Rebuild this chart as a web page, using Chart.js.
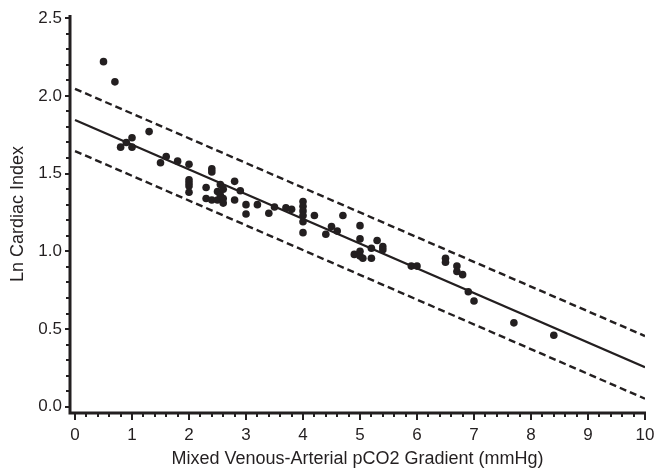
<!DOCTYPE html>
<html>
<head>
<meta charset="utf-8">
<script src="https://cdn.jsdelivr.net/npm/chart.js@4"></script>
<style>
  html, body { margin: 0; padding: 0; background: #fff; }
  #wrap { width: 655px; height: 470px; }
</style>
</head>
<body>
<div id="wrap"><canvas id="chart"></canvas></div>
<script>
// Mixed venous-arterial pCO2 gradient vs ln cardiac index

const gradient = [
  0.50, 0.70, 0.80, 0.90, 1.00, 1.00, 1.30, 1.50, 1.60, 1.80,
  2.00, 2.00, 2.00, 2.00, 2.00, 2.30, 2.30, 2.40, 2.40, 2.40,
  2.50, 2.50, 2.55, 2.60, 2.55, 2.60, 2.60, 2.80, 2.80, 2.90,
  3.00, 3.00, 3.20, 3.40, 3.50, 3.70, 3.80, 4.00, 4.00, 4.00,
  4.00, 4.00, 4.00, 4.20, 4.40, 4.50, 4.60, 4.70, 4.90, 5.00,
  5.00, 5.00, 5.00, 5.05, 5.20, 5.20, 5.30, 5.40, 5.40, 5.90,
  6.00, 6.50, 6.50, 6.70, 6.70, 6.80, 6.90, 7.00, 7.70, 8.40
];
const lnCardiacIndex = [
  2.22, 2.09, 1.67, 1.70, 1.73, 1.67, 1.77, 1.57, 1.61, 1.58,
  1.56, 1.46, 1.44, 1.42, 1.38, 1.41, 1.34, 1.53, 1.51, 1.33,
  1.33, 1.385, 1.43, 1.40, 1.36, 1.34, 1.31, 1.45, 1.33, 1.39,
  1.30, 1.24, 1.30, 1.245, 1.285, 1.28, 1.27, 1.32, 1.29, 1.26,
  1.23, 1.19, 1.12, 1.23, 1.11, 1.16, 1.13, 1.23, 0.98, 1.165,
  1.08, 1.00, 0.97, 0.955, 0.955, 1.02, 1.07, 1.03, 1.01, 0.905,
  0.905, 0.955, 0.93, 0.905, 0.87, 0.85, 0.74, 0.68, 0.54, 0.46
];

// regression line and 95% band, read at x = 0 and x = 10
const lineX = [0, 10];
const fitY = [1.845, 0.255];
const upperY = [2.045, 0.455];
const lowerY = [1.645, 0.052];

const xTicks = [0, 1, 2, 3, 4, 5, 6, 7, 8, 9, 10];
const yTicks = [0.0, 0.5, 1.0, 1.5, 2.0, 2.5];
const xMinorStep = 0.2;
const yMinorStep = 0.1;

const ink = '#231f20';
const font = "'Liberation Sans', Arial, sans-serif";

const pts = gradient.map((g, i) => ({ x: g, y: lnCardiacIndex[i] }));
const seg = ys => lineX.map((x, i) => ({ x, y: ys[i] }));

// axes drawn by hand: thick spines, long major ticks, dot-like minor ticks
const axesPlugin = {
  id: 'axes',
  afterDraw(chart) {
    const { ctx, chartArea: a, scales: { x, y } } = chart;
    ctx.save();
    ctx.strokeStyle = ink;
    ctx.fillStyle = ink;
    ctx.lineWidth = 3;
    ctx.beginPath();
    ctx.moveTo(a.left, a.top);
    ctx.lineTo(a.left, a.bottom);
    ctx.lineTo(a.right + 1, a.bottom);
    ctx.stroke();

    ctx.lineWidth = 2;
    xTicks.forEach(v => {
      const px = Math.round(x.getPixelForValue(v));
      ctx.beginPath();
      ctx.moveTo(px, a.bottom);
      ctx.lineTo(px, a.bottom + 7);
      ctx.stroke();
    });
    yTicks.forEach(v => {
      const py = Math.round(y.getPixelForValue(v));
      ctx.beginPath();
      ctx.moveTo(a.left, py);
      ctx.lineTo(a.left - 5, py);
      ctx.stroke();
    });
    for (let v = xMinorStep; v < 10; v += xMinorStep) {
      if (Math.abs(v - Math.round(v)) < 1e-6) continue;
      const px = Math.round(x.getPixelForValue(v));
      ctx.fillRect(px - 1, a.bottom + 1, 2, 3);
    }
    for (let v = yMinorStep; v < 2.5; v += yMinorStep) {
      if (Math.abs(v * 2 - Math.round(v * 2)) < 1e-6) continue;
      const py = Math.round(y.getPixelForValue(v));
      ctx.fillRect(a.left - 4, py - 1, 3, 2);
    }
    ctx.restore();
  }
};

new Chart(document.getElementById('chart'), {
  type: 'scatter',
  data: {
    datasets: [
      {
        data: pts,
        backgroundColor: ink,
        borderWidth: 0,
        pointRadius: 3.8,
        order: 0
      },
      {
        type: 'line',
        data: seg(fitY),
        borderColor: ink,
        borderWidth: 2.2,
        pointRadius: 0,
        fill: false,
        order: 1
      },
      {
        type: 'line',
        data: seg(upperY),
        borderColor: ink,
        borderWidth: 2.4,
        borderDash: [7, 4],
        pointRadius: 0,
        fill: false,
        order: 1
      },
      {
        type: 'line',
        data: seg(lowerY),
        borderColor: ink,
        borderWidth: 2.4,
        borderDash: [7, 4],
        pointRadius: 0,
        fill: false,
        order: 1
      }
    ]
  },
  options: {
    responsive: true,
    maintainAspectRatio: false,
    animation: false,
    layout: { padding: { top: 15, right: 10, left: 0, bottom: 0 } },
    plugins: {
      legend: { display: false },
      tooltip: { enabled: false }
    },
    scales: {
      x: {
        type: 'linear',
        min: -0.088,
        max: 10,
        afterBuildTicks: s => { s.ticks = xTicks.map(v => ({ value: v })); },
        afterFit: s => { s.height = 57; s.paddingLeft = 0; s.paddingRight = 0; },
        grid: { display: false, drawTicks: false },
        border: { display: false },
        ticks: {
          color: ink,
          font: { family: font, size: 17 },
          padding: 12,
          maxRotation: 0
        },
        title: {
          display: true,
          text: 'Mixed Venous-Arterial pCO2 Gradient (mmHg)',
          color: ink,
          font: { family: font, size: 18 },
          padding: { top: 0, bottom: 0 }
        }
      },
      y: {
        type: 'linear',
        min: -0.04,
        max: 2.52,
        afterBuildTicks: s => { s.ticks = yTicks.map(v => ({ value: v })); },
        afterFit: s => { s.width = 70; s.paddingTop = 0; s.paddingBottom = 0; },
        grid: { display: false, drawTicks: false },
        border: { display: false },
        ticks: {
          color: ink,
          font: { family: font, size: 17 },
          padding: 8,
          callback: v => v.toFixed(1)
        },
        title: {
          display: true,
          text: 'Ln Cardiac Index',
          color: ink,
          font: { family: font, size: 18 },
          padding: { top: 7, bottom: 0 }
        }
      }
    }
  },
  plugins: [axesPlugin]
});
</script>
</body>
</html>
